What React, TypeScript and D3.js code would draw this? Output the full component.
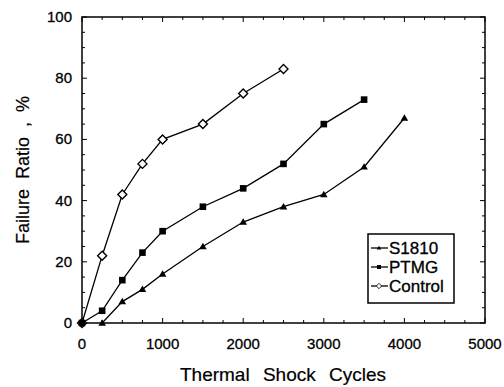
import React from "react";
import * as d3 from "d3";

const controlX = [0, 250, 500, 750, 1000, 1500, 2000, 2500];
const controlY = [0, 22, 42, 52, 60, 65, 75, 83];
const ptmgX = [0, 250, 500, 750, 1000, 1500, 2000, 2500, 3000, 3500];
const ptmgY = [0, 4, 14, 23, 30, 38, 44, 52, 65, 73];
const s1810X = [250, 500, 750, 1000, 1500, 2000, 2500, 3000, 3500, 4000];
const s1810Y = [0, 7, 11, 16, 25, 33, 38, 42, 51, 67];
const xTicks = [0, 1000, 2000, 3000, 4000, 5000];
const yTicks = [0, 20, 40, 60, 80, 100];
const legendNames = ["S1810", "PTMG", "Control"];

const W = 504, H = 387;
const L = 82, R = 485, T = 17, B = 323;
const font = "'Liberation Sans', Arial, Helvetica, sans-serif";

function Marker({ kind, x, y }: { kind: string; x: number; y: number }) {
  if (kind === "diamond") {
    const s = 4.5;
    return <path d={`M${x},${y - s}L${x + s},${y}L${x},${y + s}L${x - s},${y}Z`} fill="white" stroke="black" strokeWidth={1.4} />;
  }
  if (kind === "square") {
    return <rect x={x - 3.3} y={y - 3.3} width={6.6} height={6.6} fill="black" />;
  }
  const s = 3.8;
  return <path d={`M${x},${y - s}L${x + s},${y + s * 0.7}L${x - s},${y + s * 0.7}Z`} fill="black" />;
}

export default function App() {
  const x = d3.scaleLinear().domain([0, 5000]).range([L, R]);
  const y = d3.scaleLinear().domain([0, 100]).range([B, T]);
  const line = d3.line<[number, number]>().x(d => x(d[0])).y(d => y(d[1]));
  const series = [
    { xs: controlX, ys: controlY, kind: "diamond" },
    { xs: ptmgX, ys: ptmgY, kind: "square" },
    { xs: s1810X, ys: s1810Y, kind: "triangle" },
  ];
  const xMinor = d3.range(0, 5001, 250);
  const yMinor = d3.range(0, 101, 5);
  const legendKinds = ["triangle", "square", "diamond"];
  return (
    <svg width={W} height={H} style={{ position: "absolute", left: 0, top: 0, background: "white" }}>
      <rect x={0} y={0} width={W} height={H} fill="white" />
      {xMinor.map(v => (
        <g key={"xt" + v}>
          <line x1={x(v)} x2={x(v)} y1={B} y2={B - (v % 1000 === 0 ? 5 : 3)} stroke="black" strokeWidth={1} />
          <line x1={x(v)} x2={x(v)} y1={T} y2={T + (v % 1000 === 0 ? 5 : 3)} stroke="black" strokeWidth={1} />
        </g>
      ))}
      {yMinor.map(v => (
        <g key={"yt" + v}>
          <line x1={L} x2={L + (v % 20 === 0 ? 5 : 3)} y1={y(v)} y2={y(v)} stroke="black" strokeWidth={1} />
          <line x1={R} x2={R - (v % 20 === 0 ? 5 : 3)} y1={y(v)} y2={y(v)} stroke="black" strokeWidth={1} />
        </g>
      ))}
      <rect x={L} y={T} width={R - L} height={B - T} fill="none" stroke="black" strokeWidth={1.5} />
      {xTicks.map(v => (
        <text key={"xl" + v} x={x(v)} y={349} textAnchor="middle" fontFamily={font} fontSize={15} fill="black" stroke="black" strokeWidth={0.3}>{v}</text>
      ))}
      {yTicks.map(v => (
        <text key={"yl" + v} x={72} y={y(v) + 5} textAnchor="end" fontFamily={font} fontSize={15} fill="black" stroke="black" strokeWidth={0.3}>{v}</text>
      ))}
      {series.map((s, i) => (
        <g key={"s" + i}>
          <path d={line(s.xs.map((xv, j) => [xv, s.ys[j]] as [number, number])) || ""} fill="none" stroke="black" strokeWidth={1.3} />
          {s.xs.map((xv, j) => <Marker key={j} kind={s.kind} x={x(xv)} y={y(s.ys[j])} />)}
        </g>
      ))}
      <rect x={368} y={234} width={86} height={69} fill="white" stroke="black" strokeWidth={1.5} />
      {legendNames.map((n, i) => (
        <g key={"lg" + i}>
          <line x1={371} x2={388} y1={248 + i * 19} y2={248 + i * 19} stroke="black" strokeWidth={1.3} />
          <g transform={`translate(${379},${248 + i * 19}) scale(0.6) translate(${-379},${-(248 + i * 19)})`}>
            <Marker kind={legendKinds[i]} x={379} y={248 + i * 19} />
          </g>
          <text x={389} y={254 + i * 19} fontFamily={font} fontSize={17} fill="black" stroke="black" strokeWidth={0.3}>{n}</text>
        </g>
      ))}
      <text x={283} y={381} textAnchor="middle" fontFamily={font} fontSize={19} wordSpacing={8} fill="black" stroke="black" strokeWidth={0.2}>Thermal Shock Cycles</text>
      <text transform={`translate(29,170) rotate(-90)`} textAnchor="middle" fontFamily={font} fontSize={18} wordSpacing={5} fill="black" stroke="black" strokeWidth={0.2}>Failure Ratio , %</text>
    </svg>
  );
}
